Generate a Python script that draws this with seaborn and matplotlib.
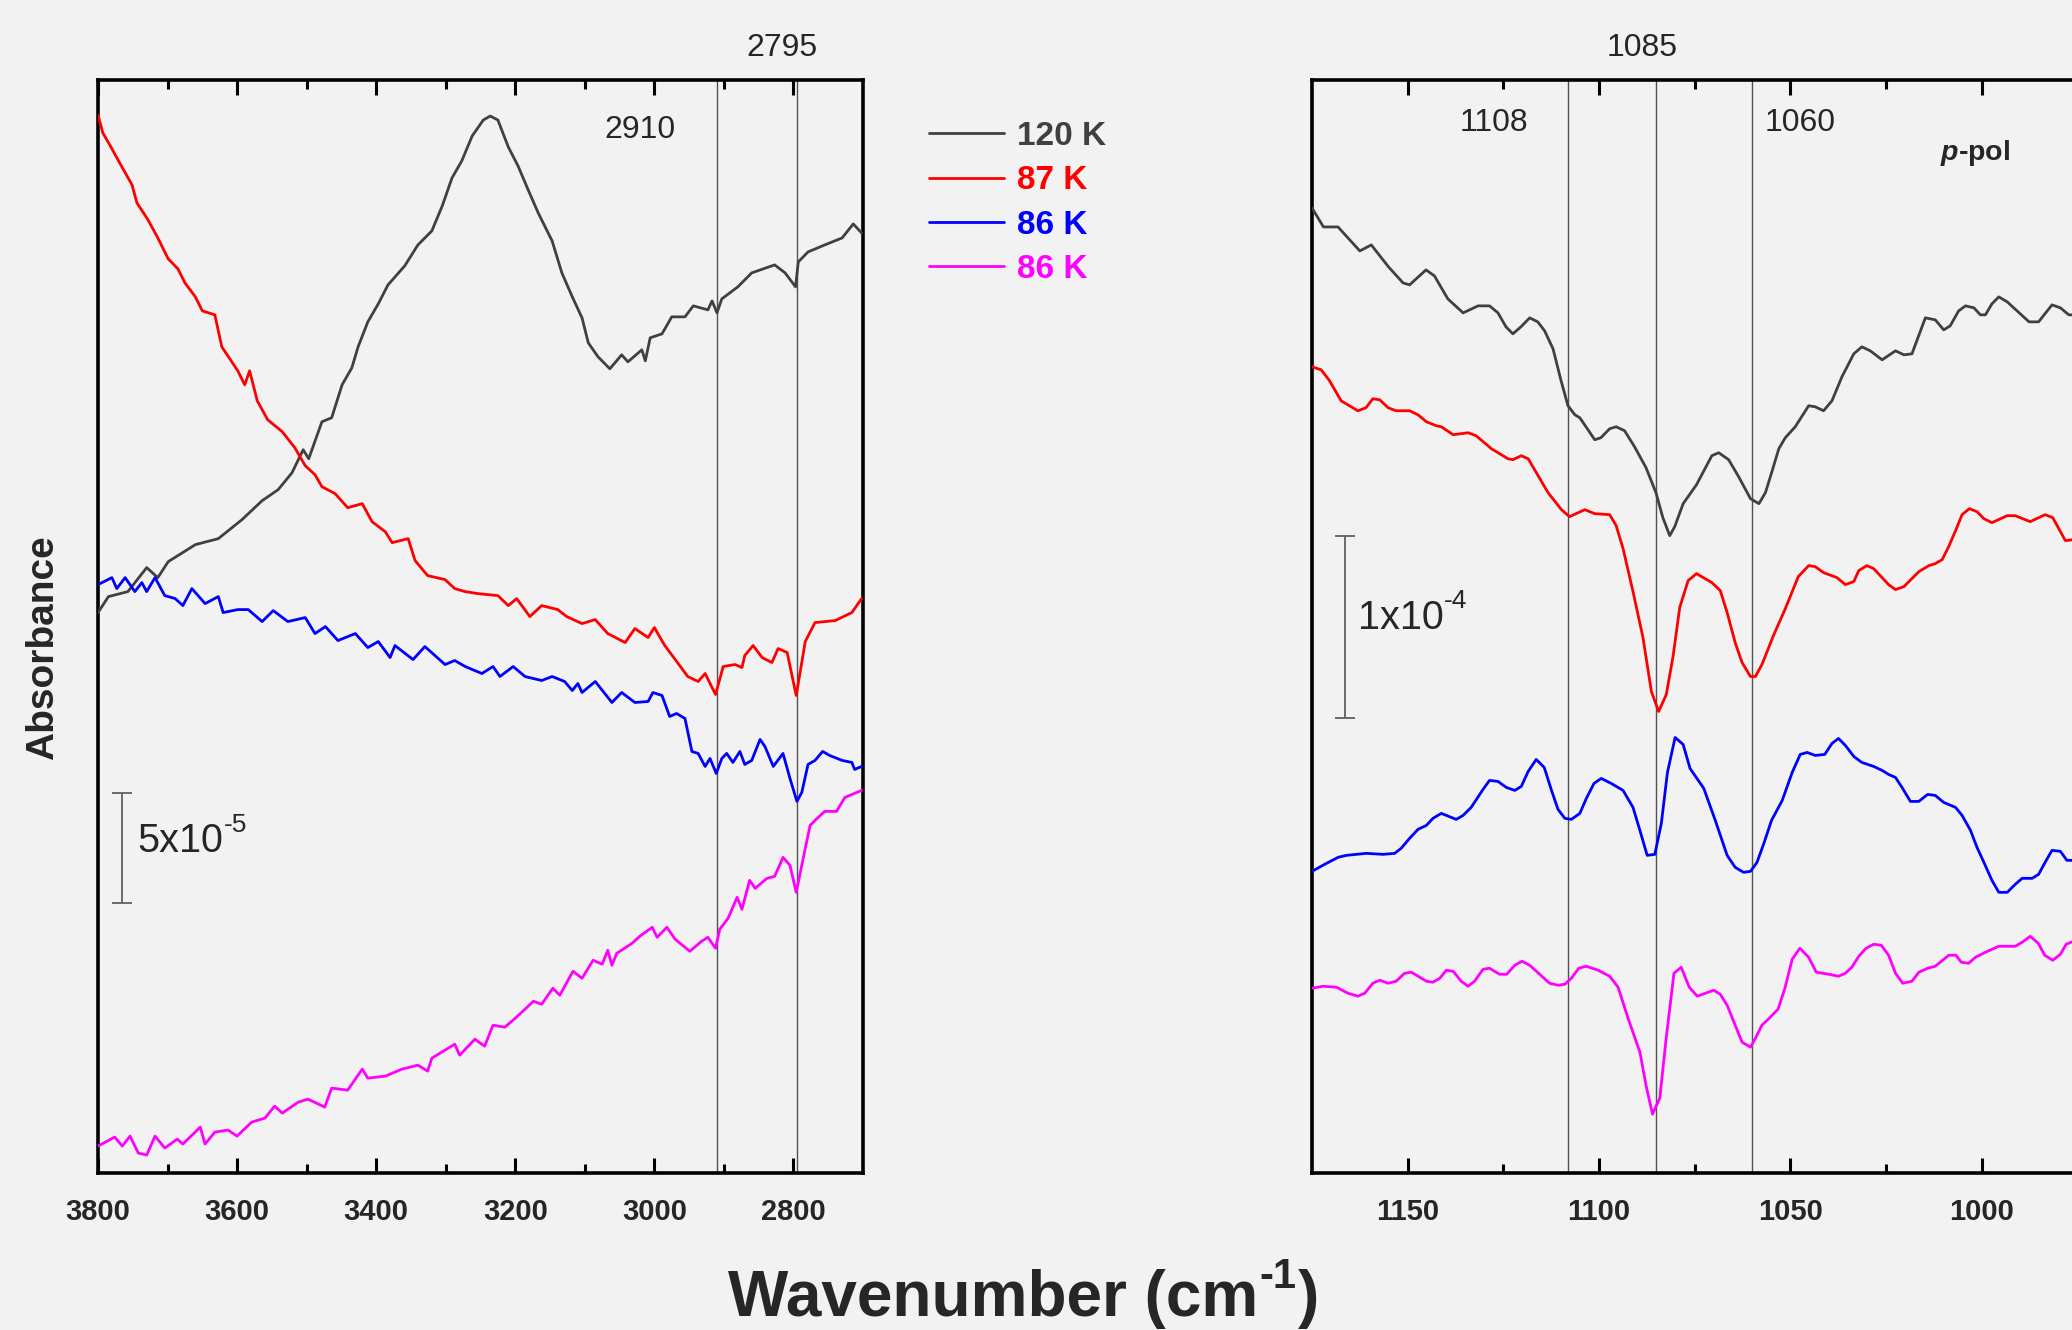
import pandas as pd
import seaborn as sns
import matplotlib.pyplot as plt

# (wavenumber in cm-1, absorbance offset in plot units)
left_120K = [(3800, 561), (3785, 577), (3757, 582), (3730, 606), (3714, 596), (3699, 612),
             (3660, 629), (3627, 635), (3593, 654), (3564, 673), (3541, 684), (3521, 701),
             (3505, 724), (3497, 715), (3478, 752), (3464, 756), (3449, 789), (3435, 806),
             (3426, 827), (3412, 852), (3397, 870), (3383, 889), (3359, 908), (3340, 929),
             (3320, 943), (3305, 968), (3291, 996), (3277, 1013), (3262, 1038), (3246, 1054),
             (3236, 1058), (3225, 1054), (3210, 1027), (3196, 1008), (3182, 985), (3167, 961),
             (3147, 933), (3133, 901), (3118, 877), (3104, 856), (3095, 831), (3081, 817),
             (3064, 805), (3047, 819), (3038, 812), (3018, 824), (3013, 813), (3006, 836),
             (2989, 840), (2975, 857), (2956, 857), (2944, 868), (2923, 864), (2917, 873),
             (2910, 861), (2903, 875), (2880, 887), (2860, 901), (2827, 909), (2812, 901),
             (2797, 887), (2793, 912), (2779, 922), (2755, 929), (2730, 936), (2714, 950),
             (2702, 941)]

left_87K = [(3800, 1059), (3793, 1041), (3783, 1029), (3768, 1010), (3751, 989), (3744, 971),
            (3728, 954), (3714, 936), (3699, 915), (3685, 905), (3675, 891), (3660, 877),
            (3650, 863), (3632, 859), (3622, 827), (3599, 803), (3589, 789), (3582, 803),
            (3571, 773), (3556, 754), (3535, 742), (3517, 726), (3502, 708), (3488, 699),
            (3478, 687), (3459, 680), (3441, 666), (3420, 670), (3406, 652), (3387, 642),
            (3377, 631), (3354, 635), (3344, 613), (3326, 598), (3301, 594), (3287, 585),
            (3272, 582), (3254, 580), (3225, 578), (3210, 568), (3198, 575), (3179, 557),
            (3162, 568), (3139, 564), (3126, 557), (3104, 550), (3085, 554), (3067, 540),
            (3042, 531), (3028, 545), (3009, 536), (3000, 546), (2985, 528), (2970, 514),
            (2952, 497), (2937, 492), (2927, 500), (2912, 479), (2901, 507), (2884, 509),
            (2874, 506), (2870, 518), (2858, 528), (2845, 516), (2831, 511), (2822, 525),
            (2809, 521), (2796, 478), (2783, 532), (2769, 551), (2740, 553), (2716, 561),
            (2702, 575)]

left_86K_a = [(3800, 589), (3780, 596), (3773, 585), (3761, 596), (3747, 582), (3737, 591),
              (3730, 582), (3718, 596), (3704, 578), (3689, 575), (3678, 568), (3665, 585),
              (3646, 570), (3627, 577), (3620, 561), (3599, 564), (3584, 564), (3564, 552),
              (3548, 563), (3527, 552), (3502, 556), (3488, 540), (3473, 547), (3455, 533),
              (3430, 540), (3412, 526), (3397, 532), (3380, 516), (3373, 528), (3347, 514),
              (3330, 527), (3301, 509), (3287, 513), (3272, 507), (3248, 500), (3232, 507),
              (3222, 497), (3203, 507), (3186, 497), (3162, 493), (3147, 497), (3129, 492),
              (3118, 483), (3110, 490), (3104, 481), (3085, 492), (3061, 471), (3047, 481),
              (3028, 471), (3009, 472), (3002, 481), (2989, 478), (2978, 457), (2968, 460),
              (2956, 455), (2946, 422), (2937, 420), (2927, 407), (2920, 415), (2911, 400),
              (2903, 415), (2896, 420), (2887, 411), (2877, 422), (2870, 409), (2860, 413),
              (2848, 434), (2841, 427), (2829, 407), (2815, 420), (2805, 395), (2795, 372),
              (2788, 381), (2779, 409), (2769, 413), (2758, 422), (2748, 418), (2730, 413),
              (2716, 411), (2712, 404), (2702, 407)]

left_86K_b = [(3800, 27), (3776, 36), (3765, 27), (3754, 37), (3742, 20), (3730, 18),
              (3718, 37), (3704, 25), (3686, 34), (3678, 29), (3653, 46), (3646, 29),
              (3632, 41), (3613, 43), (3600, 37), (3579, 51), (3560, 55), (3546, 67),
              (3535, 60), (3512, 71), (3498, 74), (3474, 66), (3464, 85), (3441, 83),
              (3420, 104), (3412, 95), (3387, 97), (3363, 104), (3340, 108), (3326, 102),
              (3320, 115), (3287, 129), (3280, 118), (3258, 134), (3244, 127), (3232, 148),
              (3215, 146), (3200, 155), (3186, 164), (3174, 172), (3162, 169), (3146, 185),
              (3136, 178), (3117, 202), (3104, 195), (3088, 213), (3075, 209), (3067, 223),
              (3061, 208), (3054, 220), (3032, 230), (3021, 237), (3003, 246), (2996, 236),
              (2982, 246), (2970, 234), (2949, 222), (2932, 232), (2923, 236), (2912, 225),
              (2906, 244), (2894, 255), (2881, 276), (2874, 264), (2863, 293), (2855, 285),
              (2838, 295), (2827, 297), (2815, 316), (2805, 308), (2796, 281), (2783, 325),
              (2776, 348), (2766, 355), (2755, 362), (2738, 362), (2726, 376), (2702, 383)]

right_120K = [(1175, 966), (1172, 947), (1168.2, 947), (1165.6, 936), (1162.5, 923),
              (1159.5, 929), (1155, 907), (1151.2, 891), (1149.5, 889), (1145.2, 904),
              (1143, 898), (1139.5, 875), (1135.5, 861), (1131.6, 868), (1128.6, 868),
              (1126.4, 861), (1124.3, 847), (1122.5, 840), (1120.4, 847), (1118.1, 856),
              (1116, 852), (1114.2, 843), (1112, 825), (1109.9, 793), (1108.1, 768),
              (1106.3, 759), (1105, 756), (1101.1, 734), (1099.5, 736), (1097.2, 745),
              (1095.5, 747), (1093.3, 743), (1090.7, 727), (1087.7, 706), (1085.1, 681),
              (1083.3, 656), (1081.5, 638), (1080.2, 647), (1078, 670), (1074.5, 689),
              (1070.5, 718), (1068.7, 721), (1066.1, 714), (1063.5, 697), (1060.4, 675),
              (1058.2, 670), (1056.5, 681), (1054.8, 702), (1053, 725), (1051.3, 736),
              (1048.7, 747), (1045.2, 768), (1043.5, 767), (1041.3, 763), (1039.1, 773),
              (1036.5, 797), (1033.4, 820), (1031.3, 827), (1029.1, 823), (1026, 814),
              (1022.5, 823), (1020.3, 819), (1018.2, 820), (1014.7, 856), (1012.1, 854),
              (1009.9, 844), (1008.2, 848), (1006, 863), (1004.2, 868), (1002, 866),
              (1000.3, 859), (999, 859), (997.3, 870), (995.5, 877), (993.3, 872),
              (987.6, 852), (985.1, 852), (981.6, 869), (979.4, 866), (977.2, 859), (976, 859)]

right_87K = [(1175, 807), (1172.6, 804), (1170.4, 793), (1167.4, 773), (1163, 763),
             (1160.9, 766), (1159.1, 775), (1157.3, 774), (1155.1, 766), (1153, 763),
             (1149.5, 763), (1147.3, 759), (1145.1, 752), (1142.5, 748), (1141.2, 747),
             (1138.1, 739), (1134.2, 741), (1132.1, 738), (1128.1, 725), (1123.8, 715),
             (1122.5, 714), (1120.3, 718), (1118.5, 715), (1115.9, 698), (1113.3, 681),
             (1109.8, 664), (1107.7, 657), (1103.7, 664), (1101.1, 660), (1097.2, 659),
             (1095.5, 648), (1093.7, 625), (1091.1, 582), (1088.5, 536), (1086.3, 482),
             (1084.4, 462), (1082.4, 479), (1080.6, 518), (1078.9, 566), (1076.7, 593),
             (1074.5, 600), (1070.5, 591), (1068.3, 583), (1066.5, 561), (1064.4, 531),
             (1062.6, 511), (1060.4, 497), (1059.1, 497), (1057.4, 509), (1054.4, 538),
             (1051.4, 564), (1047.9, 597), (1045.2, 608), (1043.5, 607), (1041.3, 601),
             (1037.8, 596), (1035.6, 589), (1033.4, 592), (1032.1, 603), (1030, 608),
             (1028.2, 605), (1024.3, 589), (1022.5, 584), (1020.3, 587), (1016.4, 602),
             (1013.8, 608), (1012.1, 610), (1010.3, 614), (1008.6, 627), (1006.8, 643),
             (1005.1, 659), (1003.2, 665), (1001.2, 662), (999.4, 655), (997.3, 651),
             (993.3, 658), (991.2, 658), (987.3, 652), (983.4, 659), (981.4, 656),
             (978.1, 633), (976, 634)]

right_86K_a = [(1175, 302), (1171.7, 309), (1168.2, 316), (1166, 318), (1160.8, 320),
               (1156.4, 319), (1153.4, 320), (1151.7, 325), (1149.5, 335), (1147.3, 344),
               (1145.1, 348), (1143.4, 355), (1141.2, 360), (1137.3, 354), (1135.5, 358),
               (1133.4, 366), (1130.3, 384), (1128.6, 393), (1126.4, 392), (1124.2, 386),
               (1122, 383), (1120.3, 387), (1118.5, 402), (1116.4, 414), (1114.3, 406),
               (1112.4, 383), (1110.7, 364), (1108.9, 355), (1107.2, 354), (1105, 360),
               (1103.3, 375), (1101.3, 390), (1099.4, 395), (1096.8, 390), (1093.7, 383),
               (1091.1, 366), (1089.3, 343), (1087.4, 318), (1085.4, 319), (1083.7, 350),
               (1082.1, 401), (1080.1, 436), (1078, 429), (1076.2, 405), (1072.6, 385),
               (1069.6, 353), (1066.5, 318), (1064.4, 306), (1062.2, 301), (1060.4, 302),
               (1058.7, 311), (1056.9, 330), (1054.9, 353), (1052.1, 373), (1049.5, 401),
               (1047.4, 419), (1045.6, 421), (1043.5, 418), (1041, 419), (1039.1, 430),
               (1037.4, 435), (1035.6, 428), (1033.4, 417), (1031.3, 411), (1028.2, 407),
               (1026, 403), (1024.3, 399), (1022.5, 396), (1020.8, 386), (1018.6, 372),
               (1016.4, 372), (1014.1, 379), (1012.1, 378), (1009.9, 371), (1006.8, 366),
               (1005.1, 358), (1002.9, 343), (1001.2, 326), (999.4, 311), (997.3, 293),
               (995.5, 281), (993.3, 281), (991.2, 289), (989.4, 295), (986.8, 295),
               (985.1, 299), (983.4, 311), (981.6, 323), (979.4, 322), (977.7, 313), (976, 313)]

right_86K_b = [(1175, 185), (1172.1, 187), (1168.6, 186), (1165.6, 180), (1163, 177),
               (1161.2, 180), (1159.1, 190), (1157.3, 193), (1155.1, 190), (1153, 192),
               (1150.8, 200), (1149, 201), (1145.1, 192), (1143.4, 191), (1141.6, 195),
               (1139.9, 203), (1138.1, 202), (1136, 192), (1134.2, 187), (1132.5, 192),
               (1130.3, 204), (1128.6, 205), (1126, 199), (1124.1, 199), (1122, 208),
               (1120.1, 212), (1118.1, 208), (1115.5, 199), (1112.9, 190), (1110.7, 188),
               (1108.9, 189), (1107.2, 195), (1105.3, 205), (1103.3, 207), (1100.2, 203),
               (1097.2, 197), (1095, 186), (1092.4, 155), (1089.3, 121), (1087.6, 86),
               (1086, 59), (1084.1, 75), (1082.4, 136), (1080.4, 200), (1078.5, 206),
               (1076.4, 186), (1074.3, 177), (1070, 183), (1068.3, 179), (1066.5, 168),
               (1064.4, 148), (1062.6, 131), (1060.4, 126), (1059.1, 135), (1057.4, 148),
               (1055.5, 155), (1053.2, 164), (1051.4, 185), (1049.5, 214), (1047.5, 225),
               (1045.2, 216), (1043.2, 201), (1039.9, 199), (1037.4, 197), (1035.6, 200),
               (1033.9, 206), (1032.1, 217), (1030.2, 225), (1028.2, 229), (1026.2, 228),
               (1024.3, 218), (1022.5, 200), (1020.6, 190), (1018.2, 192), (1016.4, 201),
               (1014.1, 205), (1012.1, 207), (1008.6, 218), (1006.7, 218), (1005.3, 211),
               (1003.4, 210), (1001.6, 216), (999, 221), (995.5, 227), (991.2, 227),
               (989.4, 231), (987.3, 237), (985.2, 230), (983.5, 218), (981.4, 213),
               (979.4, 219), (977.9, 229), (976, 232)]

labels = ["120 K", "87 K", "86 K", "86 K"]
colors = ["#404040", "#ff0000", "#0000ff", "#ff00ff"]
left_series = [left_120K, left_87K, left_86K_a, left_86K_b]
right_series = [right_120K, right_87K, right_86K_a, right_86K_b]

left_marks = [2910, 2795]
right_marks = [1108, 1085, 1060]

bar_left = 110   # 5x10^-5 in plot units
bar_right = 182  # 1x10^-4 in plot units

sns.set_style("ticks")
plt.rcParams['font.family'] = ['Liberation Sans', 'DejaVu Sans']
plt.rcParams['mathtext.fontset'] = 'custom'
plt.rcParams['mathtext.rm'] = 'Liberation Sans'
plt.rcParams['mathtext.bfit'] = 'Liberation Sans:italic:bold'

bg = '#f2f2f2'
fig = plt.figure(figsize=(20.72, 13.30), dpi=100, facecolor=bg)
ax1 = fig.add_axes([0.0473, 0.118, 0.3692, 0.8218])
ax2 = fig.add_axes([0.6332, 0.118, 0.4155, 0.8218])

for ax, series in [(ax1, left_series), (ax2, right_series)]:
    ax.set_facecolor(bg)
    for data, lab, c in zip(series, labels, colors):
        df = pd.DataFrame(data, columns=['wn', 'A'])
        sns.lineplot(data=df, x='wn', y='A', color=c, lw=2.0, errorbar=None,
                     label=lab, legend=False, ax=ax, zorder=3)
    for s in ax.spines.values():
        s.set_linewidth(2.6)
        s.set_color('black')
    ax.set_ylim(0, 1094)
    ax.set_xlabel('')
    ax.set_ylabel('')
    ax.tick_params(axis='x', which='both', direction='in', top=True, bottom=True,
                   width=2.2, color='black', pad=18, labelsize=21)
    ax.tick_params(axis='x', which='major', length=11)
    ax.tick_params(axis='x', which='minor', length=6.5)
    ax.tick_params(axis='y', left=False, right=False, labelleft=False)

ax1.set_xlim(3800, 2700)
ax1.set_xticks([3800, 3600, 3400, 3200, 3000, 2800],
               labels=['3800', '3600', '3400', '3200', '3000', '2800'], fontweight='bold')
ax1.set_xticks([3700, 3500, 3300, 3100, 2900], minor=True)

ax2.set_xlim(1175, 950)
ax2.set_xticks([1150, 1100, 1050, 1000],
               labels=['1150', '1100', '1050', '1000'], fontweight='bold')
ax2.set_xticks([1125, 1075, 1025, 975], minor=True)

for wn in left_marks:
    ax1.axvline(wn, color='#505050', lw=1.0, zorder=2)
for wn in right_marks:
    ax2.axvline(wn, color='#505050', lw=1.0, zorder=2)

# peak labels
ax1.text(2817, 1.029, '2795', transform=ax1.get_xaxis_transform(), ha='center', va='center', fontsize=23)
ax1.text(3021, 1044, '2910', ha='center', va='center', fontsize=23)
ax2.text(1088.7, 1.029, '1085', transform=ax2.get_xaxis_transform(), ha='center', va='center', fontsize=23)
ax2.text(1127.4, 1051, '1108', ha='center', va='center', fontsize=23)
ax2.text(1047.3, 1051, '1060', ha='center', va='center', fontsize=23)
ax2.text(1001.7, 1021, r'$\mathbfit{p}$-pol', ha='center', va='center', fontsize=20.5, fontweight='bold')


def sup(ax, base, exp, sup_size, weight='normal', rise=6):
    # superscript with a plain hyphen, placed after the base text
    return ax.annotate(exp, xy=(1, 1), xycoords=base, xytext=(0.5, rise),
                       textcoords='offset points', ha='left', va='top',
                       fontsize=sup_size, fontweight=weight, annotation_clip=False)


# scale bars
ax1.errorbar([3766], [270 + bar_left / 2], yerr=bar_left / 2, color='#606060', lw=1.3,
             capsize=7, capthick=1.3, zorder=3)
t = ax1.text(3744, 332, '5x10', ha='left', va='center', fontsize=28.5)
sup(ax1, t, '-5', 19, rise=7)
ax2.errorbar([1166.5], [455.5 + bar_right / 2], yerr=bar_right / 2, color='#606060', lw=1.3,
             capsize=7, capthick=1.3, zorder=3)
t = ax2.text(1163, 556, '1x10', ha='left', va='center', fontsize=28.5)
sup(ax2, t, '-4', 19, rise=7)

handles = ax1.get_lines()[:4]
leg = fig.legend(handles, labels, loc='upper left', bbox_to_anchor=(929 / 2072, 1 - 121 / 1330),
                 frameon=False, prop={'weight': 'bold', 'size': 24}, handlelength=2.25,
                 handletextpad=0.38, labelspacing=0.4, borderpad=0, borderaxespad=0)
for txt, c in zip(leg.get_texts(), colors):
    txt.set_color(c)

fig.text(0.021, 0.513, 'Absorbance', rotation=90, ha='center', va='center',
         fontsize=28, fontweight='bold')
xl = fig.text(0.3514, 0.0105, 'Wavenumber (cm', ha='left', va='baseline',
              fontsize=46, fontweight='bold')
s = sup(ax1, xl, '-1', 30, weight='bold', rise=9)
ax1.annotate(')', xy=(1, 0), xycoords=(s, xl), xytext=(1, 0), textcoords='offset points',
             ha='left', va='bottom', fontsize=46, fontweight='bold', annotation_clip=False)

fig.savefig('out.png', dpi=100, facecolor=bg)
